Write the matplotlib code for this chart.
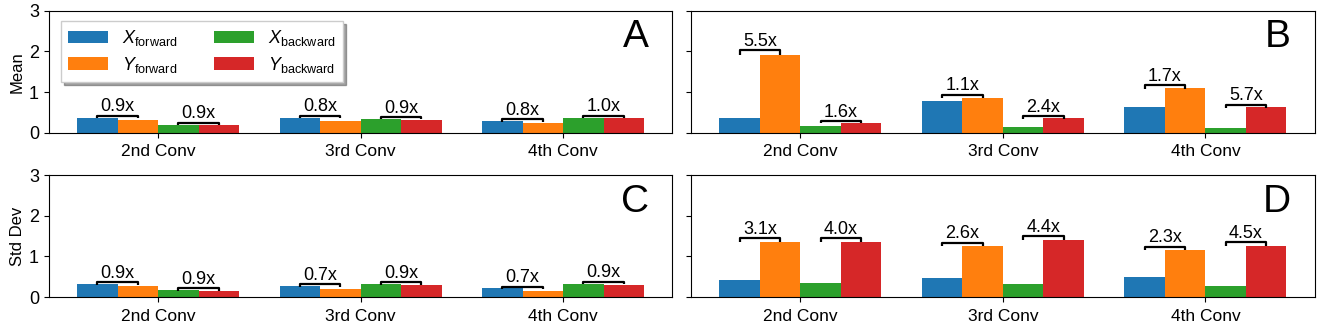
import numpy as np
import matplotlib
matplotlib.use("Agg")
import matplotlib.pyplot as plt

plt.rcParams['font.family'] = ['Liberation Sans', 'DejaVu Sans']
plt.rcParams['mathtext.fontset'] = 'custom'
plt.rcParams['mathtext.rm'] = 'Liberation Sans'
plt.rcParams['mathtext.it'] = 'Liberation Sans:italic'

# data
layers = ["2nd Conv", "3rd Conv", "4th Conv"]
series = [r"$X_{\mathrm{forward}}$", r"$Y_{\mathrm{forward}}$",
          r"$X_{\mathrm{backward}}$", r"$Y_{\mathrm{backward}}$"]
colors = ["#1f77b4", "#ff7f0e", "#2ca02c", "#d62728"]

# A: mean, left
mean_a = [[0.37, 0.37, 0.29],   # X fwd
          [0.31, 0.28, 0.23],   # Y fwd
          [0.20, 0.34, 0.37],   # X bwd
          [0.18, 0.31, 0.37]]   # Y bwd
ratio_a = [["0.9x", "0.8x", "0.8x"], ["0.9x", "0.9x", "1.0x"]]

# B: mean, right
mean_b = [[0.35, 0.78, 0.63],
          [1.91, 0.86, 1.09],
          [0.156, 0.148, 0.11],
          [0.246, 0.36, 0.625]]
ratio_b = [["5.5x", "1.1x", "1.7x"], ["1.6x", "2.4x", "5.7x"]]

# C: std dev, left
std_c = [[0.32, 0.27, 0.21],
         [0.28, 0.19, 0.145],
         [0.174, 0.32, 0.33],
         [0.157, 0.29, 0.30]]
ratio_c = [["0.9x", "0.7x", "0.7x"], ["0.9x", "0.9x", "0.9x"]]

# D: std dev, right
std_d = [[0.43, 0.48, 0.496],
         [1.35, 1.25, 1.15],
         [0.34, 0.318, 0.28],
         [1.355, 1.40, 1.26]]
ratio_d = [["3.1x", "2.6x", "2.3x"], ["4.0x", "4.4x", "4.5x"]]

width = 0.2
x = np.arange(len(layers))


def bracket(ax, x1, x2, top, text):
    y = top + 0.03 + 0.05 * top
    t = 0.05 + 0.035 * top
    ax.plot([x1, x1, x2, x2], [y - t, y, y, y - t], color="black", lw=1.6,
            solid_capstyle="butt")
    ax.text((x1 + x2) / 2, y + 0.01, text, ha="center", va="bottom", fontsize=13)


def draw(ax, vals, ratios, letter):
    for i, v in enumerate(vals):
        ax.bar(x + (i - 1.5) * width, v, width, color=colors[i], label=series[i])
    for j in range(len(layers)):
        for k, (a, b) in enumerate([(0, 1), (2, 3)]):
            xa = x[j] + (a - 1.5) * width
            xb = x[j] + (b - 1.5) * width
            top = max(vals[a][j], vals[b][j])
            bracket(ax, xa, xb, top, ratios[k][j])
    ax.set_ylim(0, 3)
    ax.set_yticks([0, 1, 2, 3])
    ax.set_xticks(x)
    ax.set_xticklabels(layers, fontsize=12.5)
    ax.tick_params(axis="x", pad=5)
    ax.tick_params(axis="y", labelsize=13)
    ax.text(0.962, 0.93, letter, transform=ax.transAxes, ha="right", va="top",
            fontsize=28)


fig, axes = plt.subplots(2, 2, figsize=(13.2, 3.3), dpi=100)
plt.subplots_adjust(left=0.037, right=0.996, top=0.967, bottom=0.1,
                    wspace=0.03, hspace=0.35)

draw(axes[0, 0], mean_a, ratio_a, "A")
draw(axes[0, 1], mean_b, ratio_b, "B")
draw(axes[1, 0], std_c, ratio_c, "C")
draw(axes[1, 1], std_d, ratio_d, "D")

for ax in axes[:, 1]:
    ax.set_yticklabels([])
axes[0, 0].set_ylabel("Mean", fontsize=12, labelpad=3)
axes[1, 0].set_ylabel("Std Dev", fontsize=12, labelpad=3)

axes[0, 0].legend(loc="upper left", ncol=2, fontsize=13, shadow=True,
                  fancybox=False, handlelength=2.2, columnspacing=2.0,
                  labelspacing=0.35, bbox_to_anchor=(0.005, 0.99))

fig.savefig("out.png", dpi=100)
